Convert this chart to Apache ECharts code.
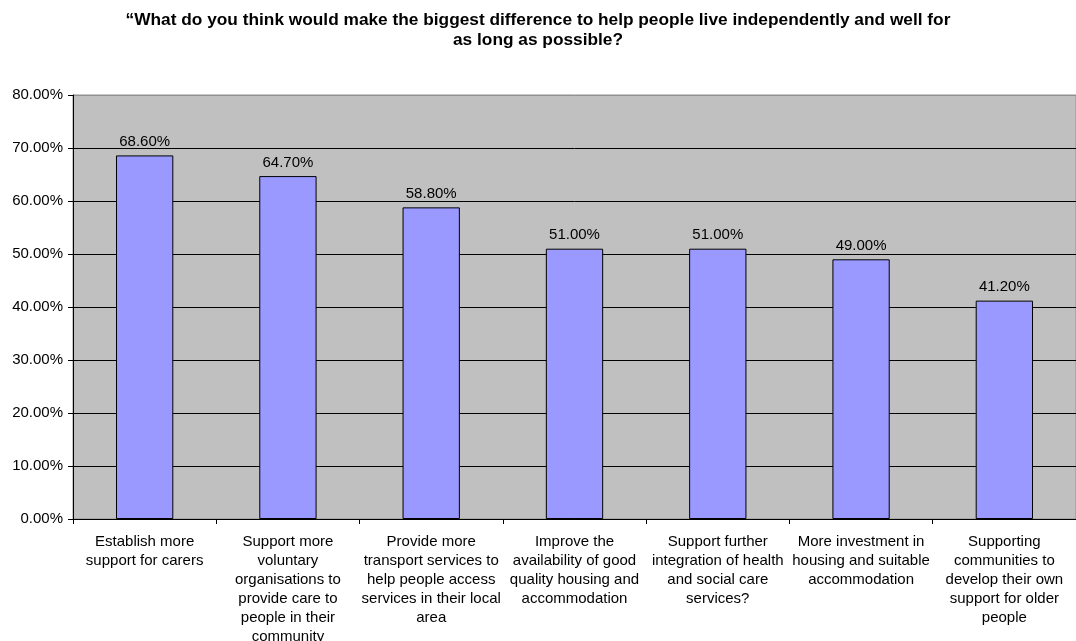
<!DOCTYPE html>
<html>
<head>
<meta charset="utf-8">
<script src="https://cdn.jsdelivr.net/npm/echarts@6/dist/echarts.min.js"></script>
<style>html,body{margin:0;padding:0;background:#fff;}#c{width:1076px;height:641px;}</style>
</head>
<body>
<div id="c"></div>
<script>
const titleText = "\u201cWhat do you think would make the biggest difference to help people live independently and well for\nas long as possible?";
const categories = [
  "Establish more\nsupport for carers",
  "Support more\nvoluntary\norganisations to\nprovide care to\npeople in their\ncommunity",
  "Provide more\ntransport services to\nhelp people access\nservices in their local\narea",
  "Improve the\navailability of good\nquality housing and\naccommodation",
  "Support further\nintegration of health\nand social care\nservices?",
  "More investment in\nhousing and suitable\naccommodation",
  "Supporting\ncommunities to\ndevelop their own\nsupport for older\npeople"
];
const values = [68.6, 64.7, 58.8, 51.0, 51.0, 49.0, 41.2];

const FONT = "'Liberation Sans', Arial, sans-serif";
const chart = echarts.init(document.getElementById('c'));
chart.setOption({
  animation: false,
  textStyle: { fontFamily: FONT },
  title: {
    text: titleText,
    left: 'center',
    top: 5,
    textStyle: { fontFamily: FONT, fontSize: 17.3, fontWeight: 'bold', color: '#000', lineHeight: 20, align: 'center' }
  },
  grid: {
    left: 73, right: 0, top: 95, bottom: 122,
    containLabel: false, outerBoundsMode: 'none',
    show: true, backgroundColor: '#C0C0C0', borderColor: '#909090', borderWidth: 1
  },
  xAxis: {
    type: 'category',
    data: categories,
    axisLine: { show: true, lineStyle: { color: '#000', width: 1 } },
    axisTick: { show: true, alignWithLabel: false, length: 5, lineStyle: { color: '#000' } },
    axisLabel: { interval: 0, color: '#000', fontSize: 15, lineHeight: 19, margin: 13, fontFamily: FONT, align: 'center' }
  },
  yAxis: {
    type: 'value',
    min: 0, max: 80, interval: 10,
    axisLine: { show: true, lineStyle: { color: '#000', width: 1 } },
    axisTick: { show: true, length: 5, lineStyle: { color: '#000' } },
    axisLabel: { color: '#000', fontSize: 15, margin: 10, fontFamily: FONT, formatter: v => v.toFixed(2) + '%' },
    splitLine: { show: true, lineStyle: { color: ['#000','#000','#000','#000','#000','#000','#000','#000','#909090'], width: 1 } }
  },
  series: [{
    type: 'bar',
    data: values,
    barWidth: '40%',
    itemStyle: { color: '#9999FF', borderColor: '#000', borderWidth: 1 },
    label: { show: true, position: 'top', distance: 6, color: '#000', fontSize: 15, fontFamily: FONT, formatter: p => p.value.toFixed(2) + '%' }
  }]
});
</script>
</body>
</html>
